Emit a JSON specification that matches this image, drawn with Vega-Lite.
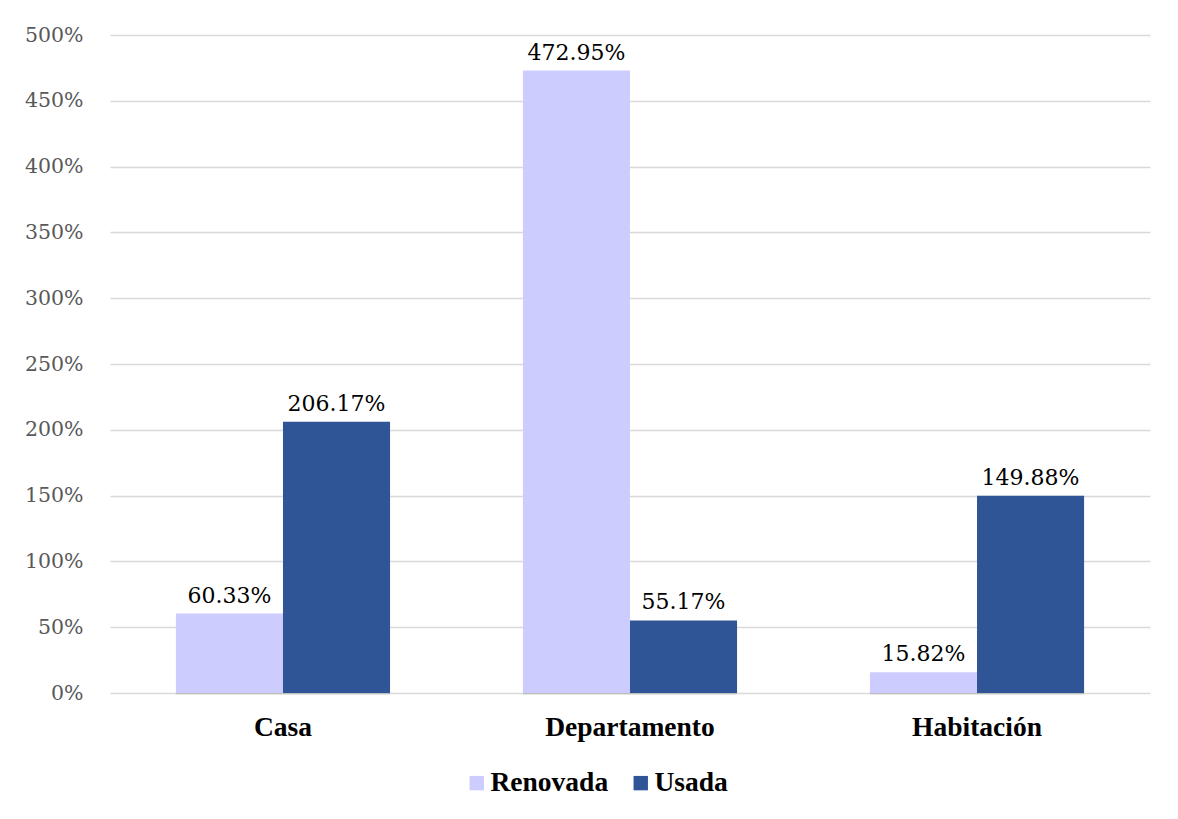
{
  "$schema": "https://vega.github.io/schema/vega-lite/v6.json",
  "autosize": {"type": "none"},
  "padding": {"left": 110, "top": 35, "right": 28, "bottom": 126},
  "width": 1040,
  "height": 658,
  "background": "#ffffff",
  "data": {
    "values": [
      {"Tipo": "Casa", "Estado": "Renovada", "valor": 0.6033},
      {"Tipo": "Casa", "Estado": "Usada", "valor": 2.0617},
      {"Tipo": "Departamento", "Estado": "Renovada", "valor": 4.7295},
      {"Tipo": "Departamento", "Estado": "Usada", "valor": 0.5517},
      {"Tipo": "Habitación", "Estado": "Renovada", "valor": 0.1582},
      {"Tipo": "Habitación", "Estado": "Usada", "valor": 1.4988}
    ]
  },
  "encoding": {
    "x": {
      "field": "Tipo",
      "type": "nominal",
      "sort": ["Casa", "Departamento", "Habitación"],
      "scale": {"paddingInner": 0.383, "paddingOuter": 0.19},
      "axis": {
        "title": null,
        "domain": false,
        "ticks": false,
        "tickSize": 0,
        "labelAngle": 0,
        "labelFont": "Liberation Serif",
        "labelFontSize": 27.5,
        "labelFontWeight": "bold",
        "labelColor": "#000000",
        "labelPadding": 20
      }
    },
    "xOffset": {
      "field": "Estado",
      "type": "nominal",
      "sort": ["Renovada", "Usada"],
      "scale": {"paddingInner": 0, "paddingOuter": 0}
    },
    "y": {
      "field": "valor",
      "type": "quantitative",
      "scale": {"domain": [0, 5], "nice": false},
      "axis": {
        "title": null,
        "values": [0, 0.5, 1, 1.5, 2, 2.5, 3, 3.5, 4, 4.5, 5],
        "format": ".0%",
        "domain": false,
        "ticks": false,
        "tickSize": 0,
        "labelFont": "DejaVu Serif",
        "labelFontSize": 20.5,
        "labelColor": "#595959",
        "labelPadding": 27,
        "gridColor": "#d9d9d9",
        "gridWidth": 1.5
      }
    }
  },
  "layer": [
    {
      "mark": {"type": "bar", "color": "#000000", "opacity": 0.13, "xOffset": 2, "yOffset": 1.5},
      "encoding": {}
    },
    {
      "mark": {"type": "bar"},
      "encoding": {
        "color": {
          "field": "Estado",
          "type": "nominal",
          "scale": {"domain": ["Renovada", "Usada"], "range": ["#ccccff", "#2f5597"]},
          "legend": {
            "title": null,
            "orient": "none",
            "direction": "horizontal",
            "legendX": 353,
            "legendY": 734,
            "padding": 0,
            "symbolType": "square",
            "symbolSize": 207,
            "symbolStrokeWidth": 0,
            "labelFont": "Liberation Serif",
            "labelFontSize": 27.5,
            "labelFontWeight": "bold",
            "labelColor": "#000000",
            "labelOffset": 0,
            "columnPadding": 18
          }
        }
      }
    },
    {
      "mark": {
        "type": "text",
        "font": "DejaVu Serif",
        "fontSize": 22,
        "color": "#000000",
        "align": "center",
        "baseline": "alphabetic",
        "dy": -11
      },
      "encoding": {
        "text": {"field": "valor", "type": "quantitative", "format": ".2%"}
      }
    }
  ],
  "config": {
    "font": "Liberation Serif",
    "view": {"stroke": null}
  }
}
